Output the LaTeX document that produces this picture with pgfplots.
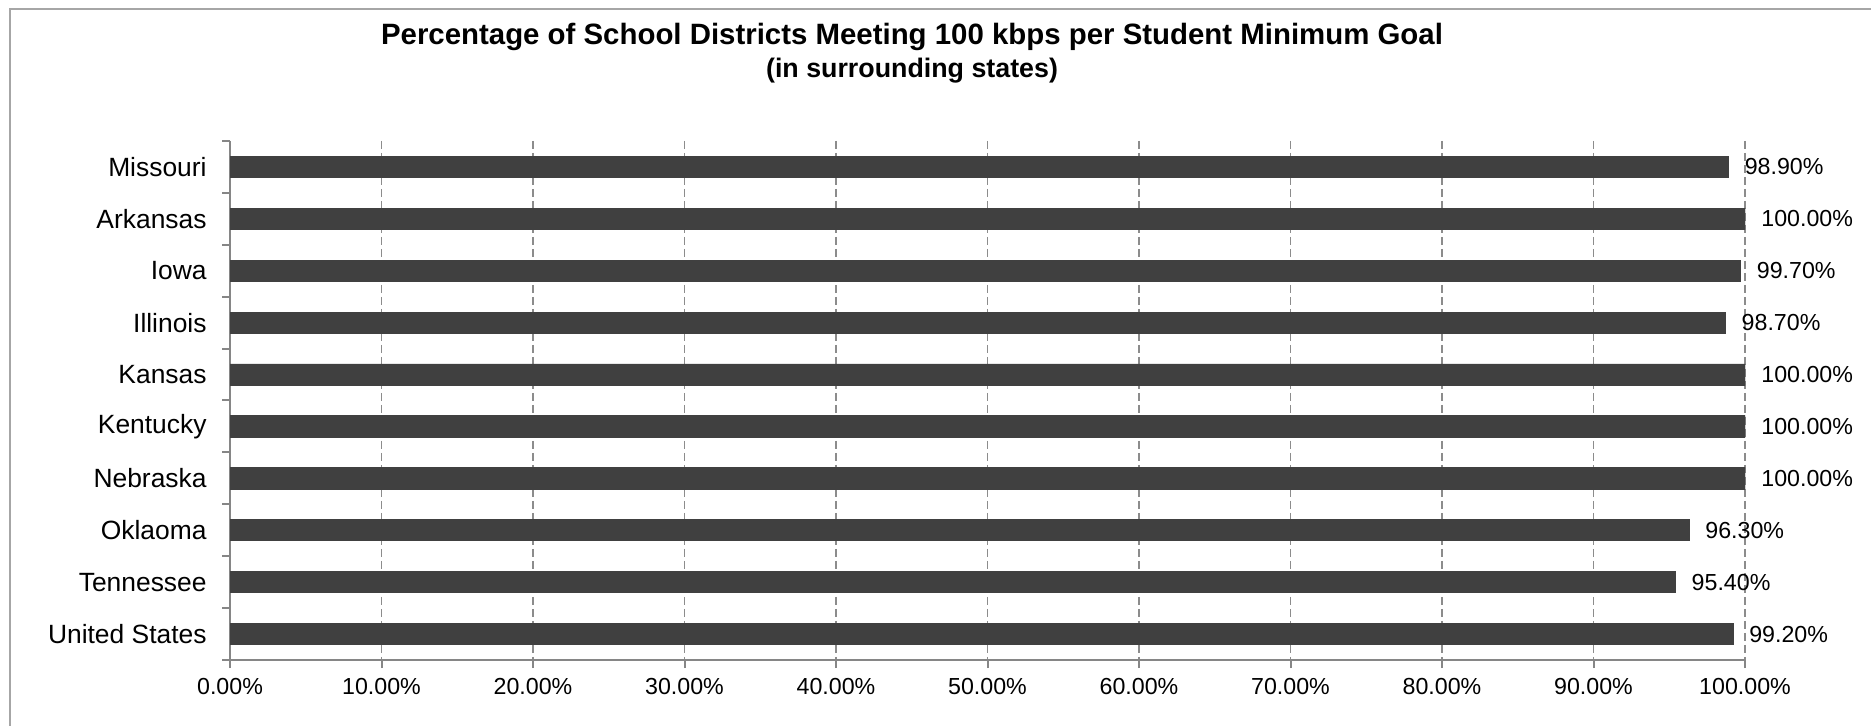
\documentclass[border=0pt]{standalone}
\usepackage{fontspec}
\setmainfont{Liberation Sans}
\usepackage{pgfplots}
\pgfplotsset{compat=1.18}
\definecolor{barfill}{HTML}{404040}
\definecolor{axisgray}{HTML}{868686}
\definecolor{gridgray}{HTML}{8C8C8C}
\definecolor{framegray}{HTML}{A6A6A6}
\begin{document}
\begin{tikzpicture}
\useasboundingbox (0,0) rectangle (935.5pt,363pt);
\fill[white] (0,0) rectangle (935.5pt,363pt);
\draw[framegray, line width=1pt] (5pt,-1pt) -- (5pt,358.5pt) -- (937pt,358.5pt);
\node[font=\bfseries\fontsize{14.7}{17}\selectfont] at (456pt,344.5pt)
  {Percentage of School Districts Meeting 100 kbps per Student Minimum Goal};
\node[font=\bfseries\fontsize{13.4}{16}\selectfont] at (456pt,327.5pt)
  {(in surrounding states)};
\begin{axis}[
  at={(115pt,33pt)}, anchor=south west,
  scale only axis, width=757.5pt, height=259.5pt,
  xbar, bar width=10.6pt,
  xmin=0, xmax=100, ymin=-0.5, ymax=9.5, y dir=reverse,
  axis lines*=left,
  axis line style={axisgray, line width=1pt, -},
  xtick={0,10,...,100},
  xticklabels={0.00\%,10.00\%,20.00\%,30.00\%,40.00\%,50.00\%,60.00\%,70.00\%,80.00\%,90.00\%,100.00\%},
  ytick={0,...,9},
  yticklabels={Missouri,Arkansas,Iowa,Illinois,Kansas,Kentucky,Nebraska,Oklaoma,Tennessee,United States},
  minor ytick={-0.5,0.5,...,9.5},
  tick align=outside,
  major tick length=4pt, minor tick length=4pt,
  tick style={axisgray, line width=1pt},
  major y tick style={draw=none},
  xmajorgrids,
  major x grid style={gridgray, dash pattern=on 4pt off 2pt, line width=0.7pt},
  xticklabel style={font=\fontsize{11.6}{14}\selectfont, yshift=-1.8pt},
  yticklabel style={font=\fontsize{13.2}{16}\selectfont, xshift=-4.2pt},
  nodes near coords,
  point meta=explicit symbolic,
  every node near coord/.append style={font=\fontsize{11.6}{14}\selectfont, anchor=west, inner sep=0pt, xshift=8pt, black},
]
\addplot[fill=barfill, draw=barfill] coordinates {
  (98.9,0) [98.90\%]
  (100,1) [100.00\%]
  (99.7,2) [99.70\%]
  (98.7,3) [98.70\%]
  (100,4) [100.00\%]
  (100,5) [100.00\%]
  (100,6) [100.00\%]
  (96.3,7) [96.30\%]
  (95.4,8) [95.40\%]
  (99.2,9) [99.20\%]
};
\end{axis}
\end{tikzpicture}
\end{document}
